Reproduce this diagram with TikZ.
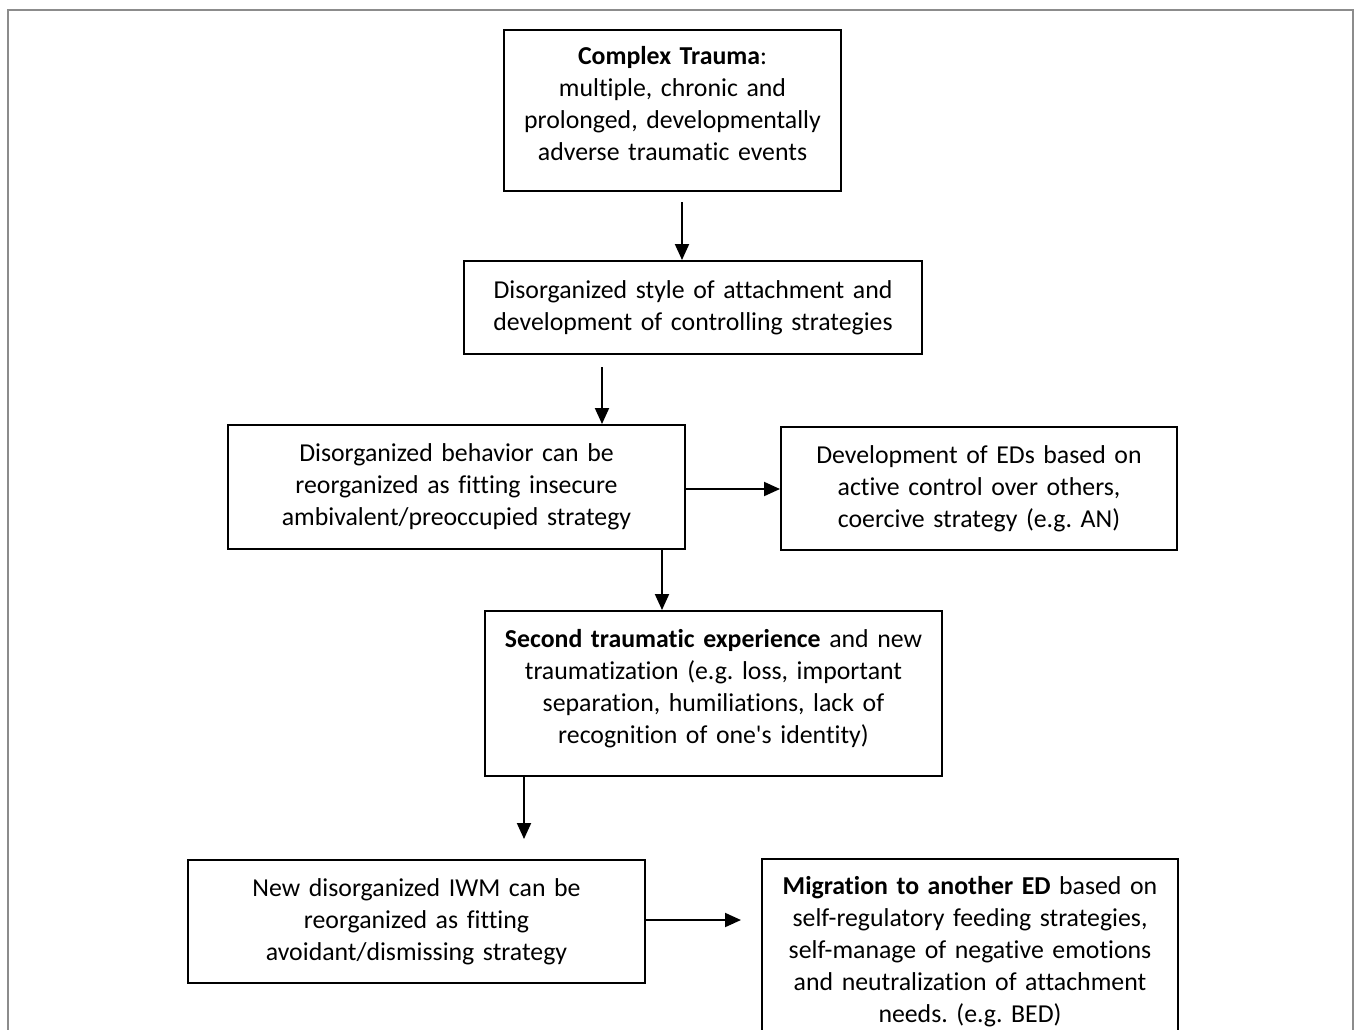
\documentclass[tikz,border=0pt]{standalone}
\usepackage{fontspec}
\setmainfont[Ligatures=NoCommon]{Carlito}
\usetikzlibrary{arrows.meta, positioning, calc}
\definecolor{framegray}{RGB}{140,140,140}
\newcommand{\liftup}{\rule[-15pt]{0pt}{15pt}}
\tikzset{
    flowbox/.style={rectangle, draw=black, line width=2pt, inner xsep=0pt, inner ysep=0pt, align=center, font=\fontsize{25.8}{32}\selectfont\frenchspacing},
    arrow/.style={-{Triangle[length=16pt, width=14pt]}, line width=2pt, black},
}
\begin{document}
\begin{tikzpicture}[x=1pt, y=-1pt]

\clip (0,0) rectangle (1354,1029);
\useasboundingbox (0,0) rectangle (1354,1029);

% page frame
\draw[framegray, line width=1.5pt] (8,1040) -- (8,10) -- (1353,10) -- (1353,1040);

% first column of boxes
\node[flowbox, text width=337pt, minimum height=161pt] (trauma) at (672.5,110.5)
    {\textbf{Complex Trauma}:\\multiple, chronic and\\prolonged, developmentally\\adverse traumatic events\liftup};
\node[flowbox, text width=458pt, minimum height=93pt] (attach) at (693,307.5)
    {Disorganized style of attachment and\\development of controlling strategies};
\node[flowbox, text width=457pt, minimum height=124pt] (ambival) at (456.5,487)
    {Disorganized behavior can be\\reorganized as fitting insecure\\ambivalent/preoccupied strategy};
\node[flowbox, text width=396pt, minimum height=123pt] (coercive) at (979,488.5)
    {Development of EDs based on\\active control over others,\\coercive strategy (e.g. AN)};
\node[flowbox, text width=457pt, minimum height=165pt] (second) at (713.5,693.5)
    {\textbf{Second traumatic experience} and new\\traumatization (e.g. loss, important\\separation, humiliations, lack of\\recognition of one\textquotesingle s identity)\liftup};
\node[flowbox, text width=457pt, minimum height=123pt] (avoidant) at (416.5,921.5)
    {New disorganized IWM can be\\reorganized as fitting\\avoidant/dismissing strategy};
\node[flowbox, text width=416pt, minimum height=186pt, anchor=north] (migration) at (970,858)
    {\textbf{Migration to another ED} based on\\self-regulatory feeding strategies,\\self-manage of negative emotions\\and neutralization of attachment\\needs. (e.g. BED)};

% free arrow ends
\coordinate (second-end) at ([xshift=-189.5pt, yshift=-62pt]second.south);
\coordinate (avoidant-end) at ([xshift=-20pt]migration.west |- avoidant.east);

% connectors
\draw[arrow] ([xshift=9.5pt, yshift=-10pt]trauma.south) -- ([xshift=9.5pt]trauma.south |- attach.north);
\draw[arrow] ([xshift=-91pt, yshift=-12pt]attach.south) -- ([xshift=-91pt]attach.south |- ambival.north);
\draw[arrow] ([xshift=-2pt, yshift=-2pt]ambival.east) -- ([yshift=-2pt]ambival.east -| coercive.west);
\draw[arrow] ([xshift=205.5pt]ambival.south) -- ([xshift=205.5pt]ambival.south |- second.north);
\draw[arrow] ([xshift=-189.5pt]second.south) -- (second-end);
\draw[arrow] ([xshift=-2pt, yshift=1.5pt]avoidant.east) -- ([yshift=1.5pt]avoidant-end);

\end{tikzpicture}
\end{document}
